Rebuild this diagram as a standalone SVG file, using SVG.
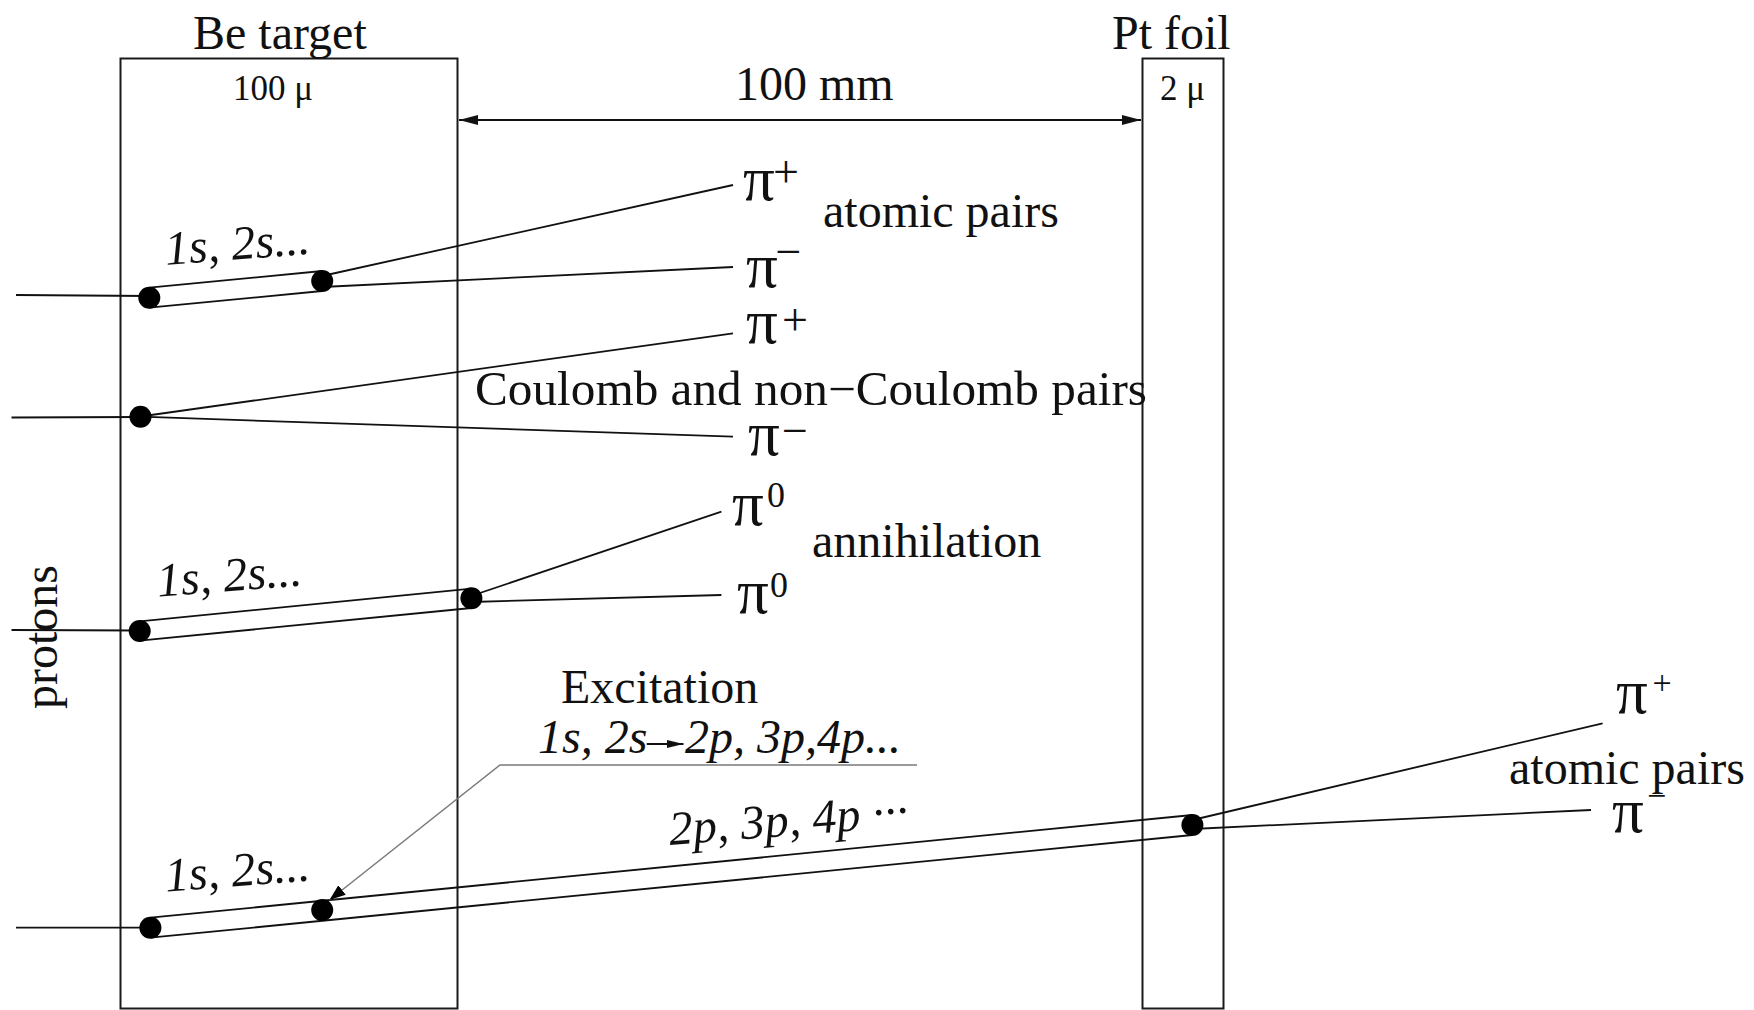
<svg xmlns="http://www.w3.org/2000/svg" width="1754" height="1010" viewBox="0 0 1754 1010">
<style>
.box{fill:none;stroke:#1a1a1a;stroke-width:2}
.trk{fill:none;stroke:#111;stroke-width:1.8}
.ptr{fill:none;stroke:#7a7a7a;stroke-width:1.5}
.dot{fill:#000}
.t{font-family:"Liberation Serif","Times New Roman",serif;fill:#111;font-size:48px}
.it{font-style:italic}
.sm{font-size:35px}
.pi{font-size:63px}
.sup{font-size:46px}
.sup2{font-size:34px}
.zero{font-size:36px}
</style>
<defs>
<marker id="dimArrow" markerUnits="userSpaceOnUse" markerWidth="20" markerHeight="12" refX="19" refY="5" orient="auto-start-reverse">
<path d="M0,0 L19,5 L0,10 Z" fill="#111"/>
</marker>
<marker id="ptrArrow" markerUnits="userSpaceOnUse" markerWidth="18" markerHeight="14" refX="16" refY="6" orient="auto">
<path d="M0,0 L16,6 L0,12 Z" fill="#000"/>
</marker>
<marker id="smallArrow" markerUnits="userSpaceOnUse" markerWidth="18" markerHeight="10" refX="17" refY="4" orient="auto">
<path d="M0,0 L17,4 L0,8 Z" fill="#111"/>
</marker>
</defs>
<rect width="1754" height="1010" fill="#fff"/>

<g id="be-target">
<rect class="box" x="120.5" y="58.5" width="337" height="950"/>
<text class="t" x="193" y="49">Be target</text>
<text class="t sm" x="233" y="100">100 μ</text>
</g>

<g id="pt-foil">
<rect class="box" x="1142.5" y="58.5" width="81" height="950"/>
<text class="t" x="1112" y="49">Pt foil</text>
<text class="t sm" x="1160" y="100">2 μ</text>
</g>

<g id="dimension">
<line class="trk" x1="459" y1="120" x2="1141" y2="120" marker-start="url(#dimArrow)" marker-end="url(#dimArrow)"/>
<text class="t" x="735" y="100">100 mm</text>
</g>

<g id="protons-label">
<text class="t" transform="translate(57,709) rotate(-90)" x="0" y="0">protons</text>
</g>

<g id="connectors">
<!-- track 1 -->
<line class="trk" x1="16" y1="295" x2="149" y2="296"/>
<line class="trk" x1="149.3" y1="287.7" x2="322.2" y2="271"/>
<line class="trk" x1="149.3" y1="307.7" x2="322.2" y2="291"/>
<line class="trk" x1="322" y1="276" x2="733" y2="185"/>
<line class="trk" x1="322" y1="287" x2="733" y2="267"/>
<!-- track 2 -->
<line class="trk" x1="11.5" y1="417.5" x2="140" y2="417"/>
<line class="trk" x1="140.5" y1="416.5" x2="733" y2="333.3"/>
<line class="trk" x1="140.5" y1="416.7" x2="733" y2="436.7"/>
<!-- track 3 -->
<line class="trk" x1="11.5" y1="630" x2="140" y2="630.5"/>
<line class="trk" x1="139.7" y1="621.3" x2="471.4" y2="588.6"/>
<line class="trk" x1="139.7" y1="640.7" x2="471.4" y2="608"/>
<line class="trk" x1="471" y1="596" x2="721.4" y2="511.7"/>
<line class="trk" x1="471" y1="602" x2="721.4" y2="595"/>
<!-- track 4 -->
<line class="trk" x1="16" y1="927.7" x2="150" y2="927.7"/>
<line class="trk" x1="150.4" y1="917.7" x2="1192.4" y2="815"/>
<line class="trk" x1="150.4" y1="937.7" x2="1192.4" y2="835"/>
<line class="trk" x1="1192.4" y1="820" x2="1602.6" y2="723.3"/>
<line class="trk" x1="1192.4" y1="829" x2="1591" y2="810"/>
<!-- excitation pointer -->
<polyline class="ptr" points="917,765 500,765 329.5,900" marker-end="url(#ptrArrow)"/>
<line class="trk" x1="646.7" y1="744" x2="683.5" y2="744" stroke-width="2" marker-end="url(#smallArrow)"/>
</g>

<g id="vertices">
<circle class="dot" cx="149.3" cy="297.7" r="11"/>
<circle class="dot" cx="322.2" cy="281" r="11"/>
<circle class="dot" cx="140.5" cy="416.7" r="11"/>
<circle class="dot" cx="139.7" cy="631" r="11"/>
<circle class="dot" cx="471.4" cy="598.3" r="11"/>
<circle class="dot" cx="150.4" cy="927.7" r="11"/>
<circle class="dot" cx="322.2" cy="910" r="11"/>
<circle class="dot" cx="1192.4" cy="825" r="11"/>
</g>

<g id="track1-labels">
<text class="t it" transform="translate(166,265) rotate(-4.5)">1s, 2s...</text>
<text class="t pi" x="743" y="200">π</text>
<text class="t sup" x="786" y="186.5" text-anchor="middle">+</text>
<text class="t" x="823" y="227">atomic pairs</text>
<text class="t pi" x="746" y="286.7">π</text>
<text class="t sup" x="788.5" y="266.5" text-anchor="middle">−</text>
</g>

<g id="track2-labels">
<text class="t pi" x="746" y="343.3">π</text>
<text class="t sup" x="795" y="334.5" text-anchor="middle">+</text>
<text class="t" x="475" y="405" textLength="672" lengthAdjust="spacingAndGlyphs">Coulomb and non−Coulomb pairs</text>
<text class="t pi" x="748" y="455">π</text>
<text class="t sup" x="795" y="445.5" text-anchor="middle">−</text>
</g>

<g id="track3-labels">
<text class="t it" transform="translate(158,596.7) rotate(-4.5)">1s, 2s...</text>
<text class="t pi" x="732" y="525">π</text>
<text class="t zero" x="767" y="507">0</text>
<text class="t" x="812" y="556.7">annihilation</text>
<text class="t pi" x="737" y="613">π</text>
<text class="t zero" x="770" y="597">0</text>
</g>

<g id="track4-labels">
<text class="t it" transform="translate(166,891.7) rotate(-4.5)">1s, 2s...</text>
<text class="t" x="561" y="703.3">Excitation</text>
<text class="t it" x="538" y="753.3">1s, 2s</text>
<text class="t it" x="685" y="753.3">2p, 3p,4p...</text>
<text class="t it" transform="translate(670,845) rotate(-4.5)">2p, 3p, 4p ···</text>
<text class="t pi" x="1616" y="713.3">π</text>
<text class="t sup2" x="1662" y="693.5" text-anchor="middle">+</text>
<text class="t" x="1509" y="784">atomic pairs</text>
<text class="t pi" x="1612" y="831.7">π</text>
<text class="t sup2" x="1656.5" y="806.5" text-anchor="middle">−</text>
</g>
</svg>
